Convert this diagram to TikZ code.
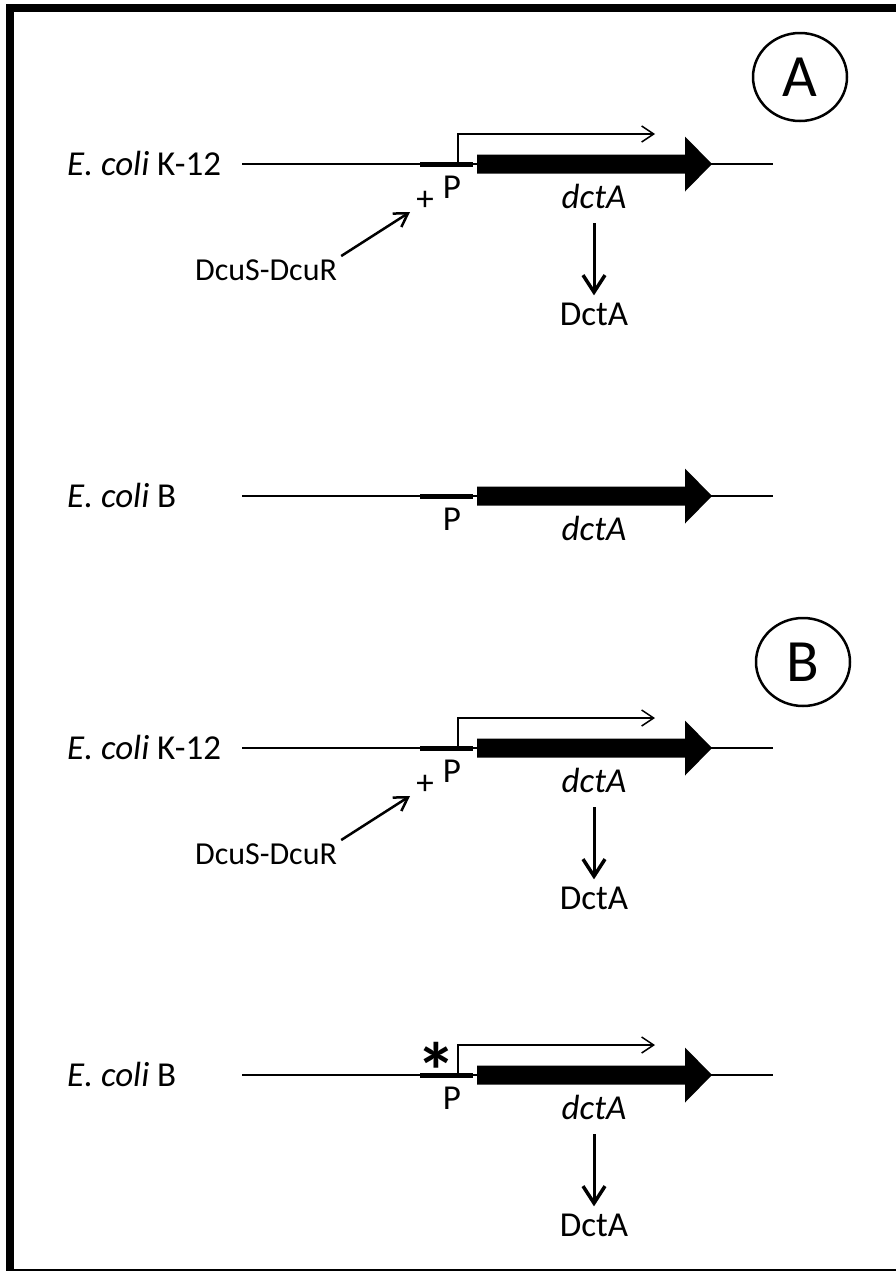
\documentclass[tikz,border=0pt]{standalone}
\usepackage{fontspec}
\setmainfont{Carlito}
\usetikzlibrary{arrows.meta,shapes.geometric}

% one dctA locus: DNA line, promoter bar, gene arrow and labels
% #1 = name prefix, #2 = vertical position of the DNA line
\newcommand\dctlocus[2]{%
  \begin{scope}[shift={(0,#2)}]
    \coordinate (#1-l)  at (242,0);
    \coordinate (#1-r)  at (773,0);
    \coordinate (#1-ps) at (420,0);
    \coordinate (#1-pe) at (473,0);
    \draw[dna] (#1-l) -- (#1-r);
    \draw[promoter] (#1-ps) -- (#1-pe);
    \fill (477,-9.5) -- (685,-9.5) -- (685,-27.5) -- (712,0)
          -- (685,27.5) -- (685,9.5) -- (477,9.5) -- cycle;
    \node[txt,anchor=base] (#1-p) at (452,34) {P};
    \node[txt,anchor=base] (#1-gene) at (594,44) {\textit{dctA}};
  \end{scope}}

% transcription start arrow above the promoter, and the product
\newcommand\dcttss[2]{%
  \begin{scope}[shift={(0,#2)}]
    \coordinate (#1-tb) at (458,0);
    \coordinate (#1-tt) at (458,-30);
    \coordinate (#1-te) at (655,-30);
    \draw[tss] (#1-tb) -- (#1-tt) -- (#1-te);
    \node[txt,anchor=base] (#1-prot) at (594,161) {DctA};
    \draw[expr] (#1-gene.south) -- (#1-prot.north);
  \end{scope}}

% activation by the DcuS-DcuR two-component system
\newcommand\dctact[2]{%
  \begin{scope}[shift={(0,#2)}]
    \node[txt] (#1-plus) at (425,37) {+};
    \node[reg,anchor=base west] (#1-reg) at (195,116) {DcuS-DcuR};
    \coordinate (#1-acttip) at (410,48);
    \draw[act] ([shift={(4,-3)}]#1-reg.north east) -- (#1-acttip);
  \end{scope}}

\begin{document}
\begin{tikzpicture}[x=1pt,y=-1pt,
  dna/.style={line width=2pt},
  promoter/.style={line width=5pt},
  tss/.style={line width=1.5pt,-{Straight Barb[length=12pt,width=16pt]}},
  expr/.style={line width=3pt,shorten <=15pt,shorten >=7pt,
               -{Straight Barb[length=17pt,width=22pt,line width=3.5pt]}},
  act/.style={line width=2.5pt,-{Straight Barb[length=13pt,width=16pt]}},
  txt/.style={inner sep=0pt,font=\fontsize{35}{40}\selectfont},
  reg/.style={inner sep=0pt,font=\fontsize{32}{38}\selectfont},
  strain/.style={inner sep=0pt,anchor=base west,font=\fontsize{35}{40}\selectfont},
  panel/.style={ellipse,draw,line width=2.5pt,minimum width=94pt,
                minimum height=88pt,inner sep=0pt,font=\fontsize{60}{60}\selectfont}]
\useasboundingbox (0,0) rectangle (896,1272);

% frame
\fill (6,4) rectangle (896,12);
\fill (6,4) rectangle (14,1271);
\fill (6,1269) rectangle (896,1271);

% panel A
\node[panel] (panelA) at (800,77) {A};
\node[strain] (k12a) at (67,175) {\textit{E. coli} K-12};
\dctlocus{ka}{164}
\dcttss{ka}{164}
\dctact{ka}{164}

\node[strain] (ba) at (67,507) {\textit{E. coli} B};
\dctlocus{ba}{496}

% panel B
\node[panel] (panelB) at (803,662) {B};
\node[strain] (k12b) at (67,759) {\textit{E. coli} K-12};
\dctlocus{kb}{748}
\dcttss{kb}{748}
\dctact{kb}{748}

\node[strain] (bb) at (67,1086) {\textit{E. coli} B};
\dctlocus{bb}{1075}
\dcttss{bb}{1075}
% promoter mutation
\node[inner sep=0pt,anchor=base,font=\fontsize{80}{80}\selectfont\bfseries]
  (bb-mut) at (436,1099) {*};
\end{tikzpicture}
\end{document}
